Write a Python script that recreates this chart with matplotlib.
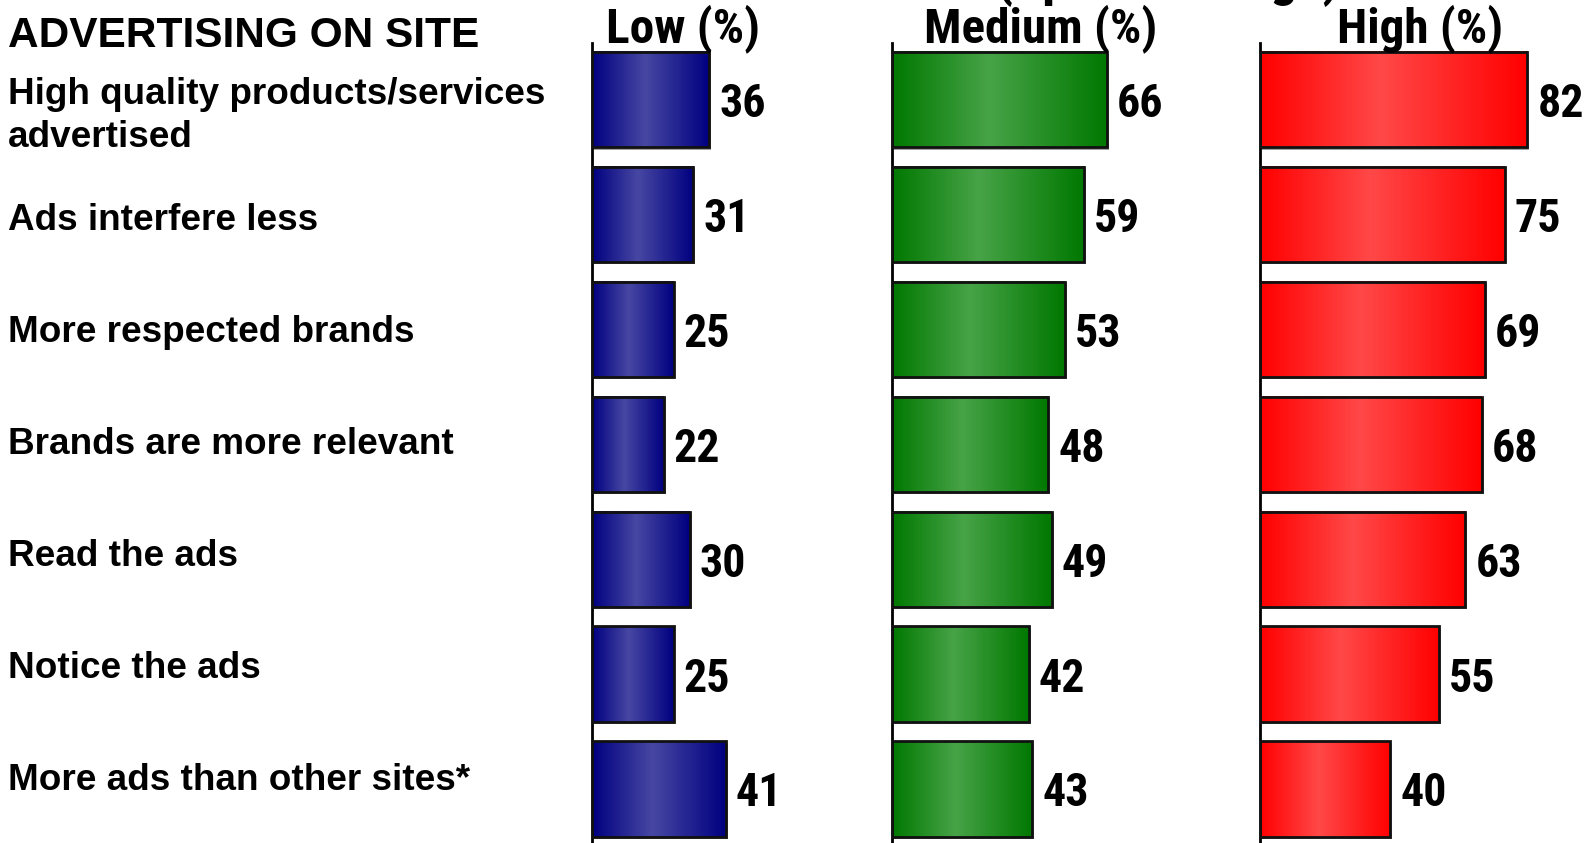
import numpy as np
import matplotlib.pyplot as plt
from matplotlib import font_manager
from matplotlib.colors import LinearSegmentedColormap
from matplotlib.patches import Rectangle

items = [
    "High quality products/services\nadvertised",
    "Ads interfere less",
    "More respected brands",
    "Brands are more relevant",
    "Read the ads",
    "Notice the ads",
    "More ads than other sites*",
]
low = [36, 31, 25, 22, 30, 25, 41]
medium = [66, 59, 53, 48, 49, 42, 43]
high = [82, 75, 69, 68, 63, 55, 40]
groups = ["Low (%)", "Medium (%)", "High (%)"]
heading = "ADVERTISING ON SITE"
subtitle = "(Split on Usage)"

# condensed face for the numbers and column heads, if one is installed
names = {f.name for f in font_manager.fontManager.ttflist}
narrow, num_size, head_size = "Liberation Sans", 29, 30
for cand in ["Liberation Sans Narrow", "Arial Narrow", "Roboto Condensed"]:
    if cand in names:
        narrow, num_size, head_size = cand, 33, 35.5
        break

W, H = 1585, 843
fig = plt.figure(figsize=(W / 100, H / 100), dpi=100)

PX = 3.26        # pixels per percentage point
PITCH = 114.9    # pixels between bar centres
FIRST = 99.6     # first bar centre, px from top
TOP, BOT = 43, 843


def add_panel(x0, width, values, edge, mid, title, title_x):
    ax = fig.add_axes([x0 / W, 1 - BOT / H, width / W, (BOT - TOP) / H])
    cmap = LinearSegmentedColormap.from_list("g", [(0, edge), (0.45, mid), (1, edge)])
    grad = np.linspace(0, 1, 256)[None, :]
    for i, v in enumerate(values):
        y0, y1 = i - 0.415, i + 0.415
        ax.add_patch(Rectangle((0.6, y0 + 0.02), v, 0.83, facecolor="#a0a0a0",
                               edgecolor="none", zorder=1))
        ax.imshow(grad, extent=(0, v, y1, y0), cmap=cmap, aspect="auto",
                  interpolation="bilinear", zorder=2)
        ax.add_patch(Rectangle((0, y0), v, 0.83, facecolor="none",
                               edgecolor="#111111", linewidth=2, zorder=3))
        ax.text(v + 10 / PX, i, str(v), ha="left", va="center_baseline",
                fontsize=num_size, fontweight="bold", family=narrow)
    ax.set_xlim(0, width / PX)
    ax.set_ylim((BOT - FIRST) / PITCH, -(FIRST - TOP) / PITCH)
    for s in ["top", "right", "bottom"]:
        ax.spines[s].set_visible(False)
    ax.spines["left"].set_linewidth(2)
    ax.set_xticks([])
    ax.set_yticks([])
    ax.patch.set_alpha(0)
    fig.text(title_x / W, 1 - 42.5 / H, title, ha="center", va="baseline",
             fontsize=head_size, fontweight="bold", family=narrow)


add_panel(592, 290, low, "#000080", "#4747a3", groups[0], 683)
add_panel(892, 360, medium, "#007800", "#47a347", groups[1], 1041)
add_panel(1260, 325, high, "#ff0000", "#ff4848", groups[2], 1420)

fig.text(1168 / W, 1 + 5 / H, subtitle, ha="center", va="baseline",
         fontsize=head_size + 3, fontweight="bold", family=narrow)

fig.text(8 / W, 1 - 47 / H, heading, ha="left", va="baseline",
         fontsize=30.5, fontweight="bold", family="Liberation Sans")
for i, label in enumerate(items):
    y = 221 + 112 * (i - 1)
    if "\n" in label:
        y = 116
    fig.text(8 / W, 1 - y / H, label, ha="left", va="center", linespacing=1.3,
             fontsize=26.6, fontweight="bold", family="Liberation Sans")

fig.savefig("out.png", dpi=100, facecolor="white")
